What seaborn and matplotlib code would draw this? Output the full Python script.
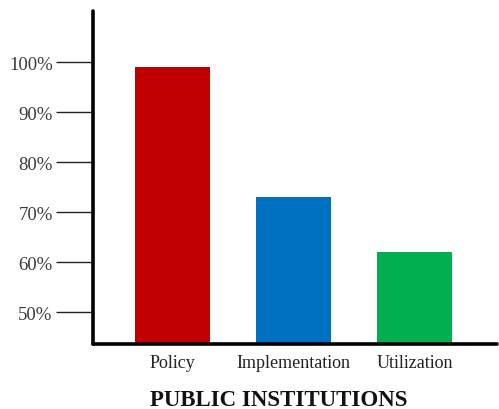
import matplotlib
matplotlib.use("Agg")
import matplotlib.pyplot as plt
import seaborn as sns
import pandas as pd

categories = ["Policy", "Implementation", "Utilization"]
values = [99, 73, 62]
colors = ["#C00000", "#0070C0", "#00B050"]
y_ticks = [50, 60, 70, 80, 90, 100]
y_tick_labels = ["50%", "60%", "70%", "80%", "90%", "100%"]

sns.set_theme(style="white")
plt.rcParams["font.family"] = ["Liberation Serif", "DejaVu Serif"]

df = pd.DataFrame({"category": categories, "value": values})

fig = plt.figure(figsize=(4.99, 4.10), dpi=100)
ax = fig.add_axes([0.1864, 0.1585, 0.8096, 0.8122])

sns.barplot(data=df, x="category", y="value", hue="category",
            palette=colors, legend=False, width=0.62, ax=ax,
            saturation=1, edgecolor="none")

ax.set_ylim(43.6, 110.2)
ax.set_xlim(-0.66, 2.68)
ax.set_yticks(y_ticks)
ax.set_yticklabels(y_tick_labels)

for side in ("top", "right"):
    ax.spines[side].set_visible(False)
for side in ("left", "bottom"):
    ax.spines[side].set_color("black")
    ax.spines[side].set_linewidth(2.6)
    ax.spines[side].set_capstyle("round")

ax.tick_params(axis="y", which="major", direction="out", length=27,
               width=1.0, color="#222222", pad=2, labelsize=13.5,
               labelcolor="#3a3a3a", left=True)
ax.tick_params(axis="x", length=0, pad=7, labelsize=13, labelcolor="#222222")

ax.set_ylabel("")
ax.set_xlabel("PUBLIC INSTITUTIONS", fontsize=16.5, fontweight="bold",
              labelpad=13, color="#111111", x=0.46)

fig.savefig("out.png", dpi=100)
